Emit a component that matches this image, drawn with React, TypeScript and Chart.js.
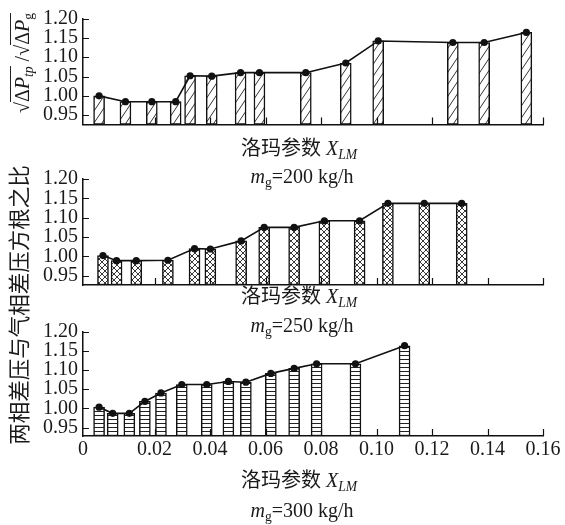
import React, { useEffect, useRef } from 'react';
import { Chart, registerables } from 'chart.js';
Chart.register(...registerables);

// ---------- data ----------
const xTickValues = [0.02, 0.04, 0.06, 0.08, 0.1, 0.12, 0.14, 0.16];
const yTickValues = [0.95, 1.0, 1.05, 1.1, 1.15, 1.2];

const xlm200 = [0.0, 0.0095, 0.019, 0.0276, 0.0328, 0.0406, 0.051, 0.0578, 0.0745, 0.0889, 0.1006, 0.1275, 0.1388, 0.154];
const ratio200 = [1.0, 0.985, 0.985, 0.985, 1.052, 1.051, 1.06, 1.06, 1.06, 1.085, 1.142, 1.138, 1.138, 1.164];

const xlm250 = [0.0014, 0.0063, 0.0134, 0.0248, 0.0344, 0.0401, 0.0512, 0.0595, 0.0703, 0.0812, 0.0939, 0.1041, 0.1172, 0.1307];
const ratio250 = [1.002, 0.989, 0.989, 0.99, 1.02, 1.019, 1.04, 1.075, 1.075, 1.092, 1.092, 1.137, 1.137, 1.137];

const xlm300 = [0.0, 0.0049, 0.0109, 0.0165, 0.0223, 0.0298, 0.0388, 0.0466, 0.0529, 0.0619, 0.0703, 0.0784, 0.0924, 0.1101];
const ratio300 = [1.003, 0.987, 0.987, 1.018, 1.04, 1.062, 1.062, 1.07, 1.068, 1.091, 1.104, 1.116, 1.116, 1.163];

const X_MIN = -0.0058;
const X_MAX = 0.16;
const Y_MAX = 1.2;

const SERIF = '"Liberation Serif", "Times New Roman", serif';
const TXT = '#1a1a1a';

function makePattern(kind: string): CanvasPattern | string {
  const c = document.createElement('canvas');
  const ctx = c.getContext('2d');
  if (!ctx) return '#fff';
  if (kind === 'diag') {
    c.width = 8; c.height = 12;
    ctx.fillStyle = '#fff'; ctx.fillRect(0, 0, 8, 12);
    ctx.strokeStyle = '#333'; ctx.lineWidth = 1;
    ctx.beginPath();
    ctx.moveTo(0, 12); ctx.lineTo(8, 0);
    ctx.moveTo(-1, 1.5); ctx.lineTo(1, -1.5);
    ctx.moveTo(7, 13.5); ctx.lineTo(9, 10.5);
    ctx.stroke();
  } else if (kind === 'cross') {
    c.width = 6; c.height = 6;
    ctx.fillStyle = '#fff'; ctx.fillRect(0, 0, 6, 6);
    ctx.strokeStyle = '#222'; ctx.lineWidth = 0.9;
    ctx.beginPath();
    ctx.moveTo(0, 0); ctx.lineTo(6, 6);
    ctx.moveTo(0, 6); ctx.lineTo(6, 0);
    ctx.stroke();
  } else {
    c.width = 4; c.height = 4;
    ctx.fillStyle = '#fff'; ctx.fillRect(0, 0, 4, 4);
    ctx.fillStyle = '#222'; ctx.fillRect(0, 1, 4, 1);
  }
  return ctx.createPattern(c, 'repeat') || '#fff';
}

const innerTicks = {
  id: 'innerTicks',
  afterDatasetsDraw(chart: any) {
    const { ctx, chartArea, scales } = chart;
    const x = scales.x, y = scales.y;
    ctx.save();
    ctx.strokeStyle = '#111';
    ctx.lineWidth = 1.2;
    ctx.beginPath();
    x.ticks.forEach((t: any) => {
      if (t.value <= 0) return;
      const px = Math.round(x.getPixelForValue(t.value)) + 0.5;
      ctx.moveTo(px, chartArea.bottom);
      ctx.lineTo(px, chartArea.bottom - 7);
    });
    y.ticks.forEach((t: any) => {
      const py = Math.round(y.getPixelForValue(t.value)) + 0.5;
      ctx.moveTo(chartArea.left, py);
      ctx.lineTo(chartArea.left + 6, py);
    });
    ctx.stroke();
    ctx.restore();
  },
};

type PanelProps = {
  top: number; height: number; padTop: number; xAxisH: number;
  xs: number[]; ys: number[]; yMin: number; showX: boolean; pattern: string;
};

function Panel(p: PanelProps) {
  const ref = useRef<HTMLCanvasElement>(null);
  useEffect(() => {
    if (!ref.current) return;
    const pts = p.xs.map((x, i) => ({ x, y: p.ys[i] }));
    const tickFont = { family: SERIF, size: 20 };
    const chart = new Chart(ref.current, {
      type: 'bar',
      data: {
        datasets: [
          {
            type: 'line',
            data: pts,
            borderColor: '#111',
            borderWidth: 1.6,
            backgroundColor: '#111',
            pointRadius: 3.6,
            pointBackgroundColor: '#111',
            pointBorderWidth: 0,
            tension: 0,
            order: 0,
          } as any,
          {
            type: 'bar',
            data: pts,
            backgroundColor: makePattern(p.pattern) as any,
            borderColor: '#111',
            borderWidth: 1.5,
            borderSkipped: false,
            barThickness: 11,
            base: p.yMin,
            order: 1,
          } as any,
        ],
      },
      options: {
        animation: false,
        responsive: false,
        maintainAspectRatio: false,
        layout: { padding: { left: 8, right: 22, top: p.padTop, bottom: 0 } },
        plugins: { legend: { display: false }, tooltip: { enabled: false }, title: { display: false } },
        scales: {
          x: {
            type: 'linear',
            offset: false,
            min: X_MIN,
            max: X_MAX,
            afterFit: (s: any) => { s.height = p.xAxisH; },
            afterBuildTicks: (s: any) => {
              s.ticks = [X_MIN, ...xTickValues].map((v) => ({ value: v }));
            },
            ticks: {
              display: p.showX,
              autoSkip: false,
              maxRotation: 0,
              padding: 2,
              color: TXT,
              font: tickFont,
              callback: (v: any) => (Number(v) <= 0 ? '0' : Number(v).toFixed(2)),
            },
            grid: { display: true, drawOnChartArea: false, drawTicks: false, offset: false },
            border: { display: true, color: '#111', width: 1.5 },
          },
          y: {
            type: 'linear',
            min: p.yMin,
            max: Y_MAX,
            afterFit: (s: any) => { s.width = 75; },
            afterBuildTicks: (s: any) => {
              s.ticks = yTickValues.map((v) => ({ value: v }));
            },
            ticks: {
              autoSkip: false,
              padding: 5,
              color: TXT,
              font: tickFont,
              callback: (v: any) => Number(v).toFixed(2),
            },
            grid: { display: true, drawOnChartArea: false, drawTicks: false },
            border: { display: true, color: '#111', width: 1.5 },
          },
        } as any,
      },
      plugins: [innerTicks],
    } as any);
    return () => chart.destroy();
  }, []);
  return (
    <canvas
      ref={ref}
      width={565}
      height={p.height}
      style={{ position: 'absolute', left: 0, top: p.top, width: 565, height: p.height }}
    />
  );
}

function Txt(props: { x: number; y: number; rotate?: boolean; size?: number; children: any }) {
  return (
    <div
      style={{
        position: 'absolute',
        left: props.x,
        top: props.y,
        transform: `translate(-50%, -50%)${props.rotate ? ' rotate(-90deg)' : ''}`,
        whiteSpace: 'nowrap',
        fontFamily: `${SERIF.split(',')[0]}, "Noto Sans CJK SC"`,
        fontSize: props.size || 20,
        color: TXT,
        lineHeight: 1,
      }}
    >
      {props.children}
    </div>
  );
}

const subStyle: any = { fontSize: '0.68em', verticalAlign: '-0.3em', lineHeight: 0 };

function XTitle({ y }: { y: number }) {
  return (
    <Txt x={299} y={y}>
      洛玛参数 <i>X</i><i style={subStyle}>LM</i>
    </Txt>
  );
}

function MTitle({ y, v }: { y: number; v: string }) {
  return (
    <Txt x={302} y={y}>
      <i>m</i><span style={subStyle}>g</span>={v} kg/h
    </Txt>
  );
}

export default function App() {
  return (
    <div style={{ position: 'absolute', left: 0, top: 0, width: 565, height: 525, background: '#fff', overflow: 'hidden' }}>
      <Panel top={0} height={150} padTop={18.5} xAxisH={25.5} xs={xlm200} ys={ratio200} yMin={0.926} showX={false} pattern="diag" />
      <Panel top={160} height={150} padTop={19} xAxisH={25} xs={xlm250} ys={ratio250} yMin={0.926} showX={false} pattern="cross" />
      <Panel top={310} height={170} padTop={21.5} xAxisH={44} xs={xlm300} ys={ratio300} yMin={0.928} showX={true} pattern="horiz" />

      <Txt x={22} y={63} rotate>
        √<span style={{ borderTop: '1px solid #222' }}>Δ<i>P</i><i style={subStyle}>tp</i></span> /√
        <span style={{ borderTop: '1px solid #222' }}>Δ<i>P</i><span style={subStyle}>g</span></span>
      </Txt>
      <Txt x={21} y={305} rotate size={21.5}>
        两相差压与气相差压方根之比
      </Txt>

      <XTitle y={148} />
      <MTitle y={176} v="200" />
      <XTitle y={296} />
      <MTitle y={325} v="250" />
      <XTitle y={480} />
      <MTitle y={510} v="300" />
    </div>
  );
}
